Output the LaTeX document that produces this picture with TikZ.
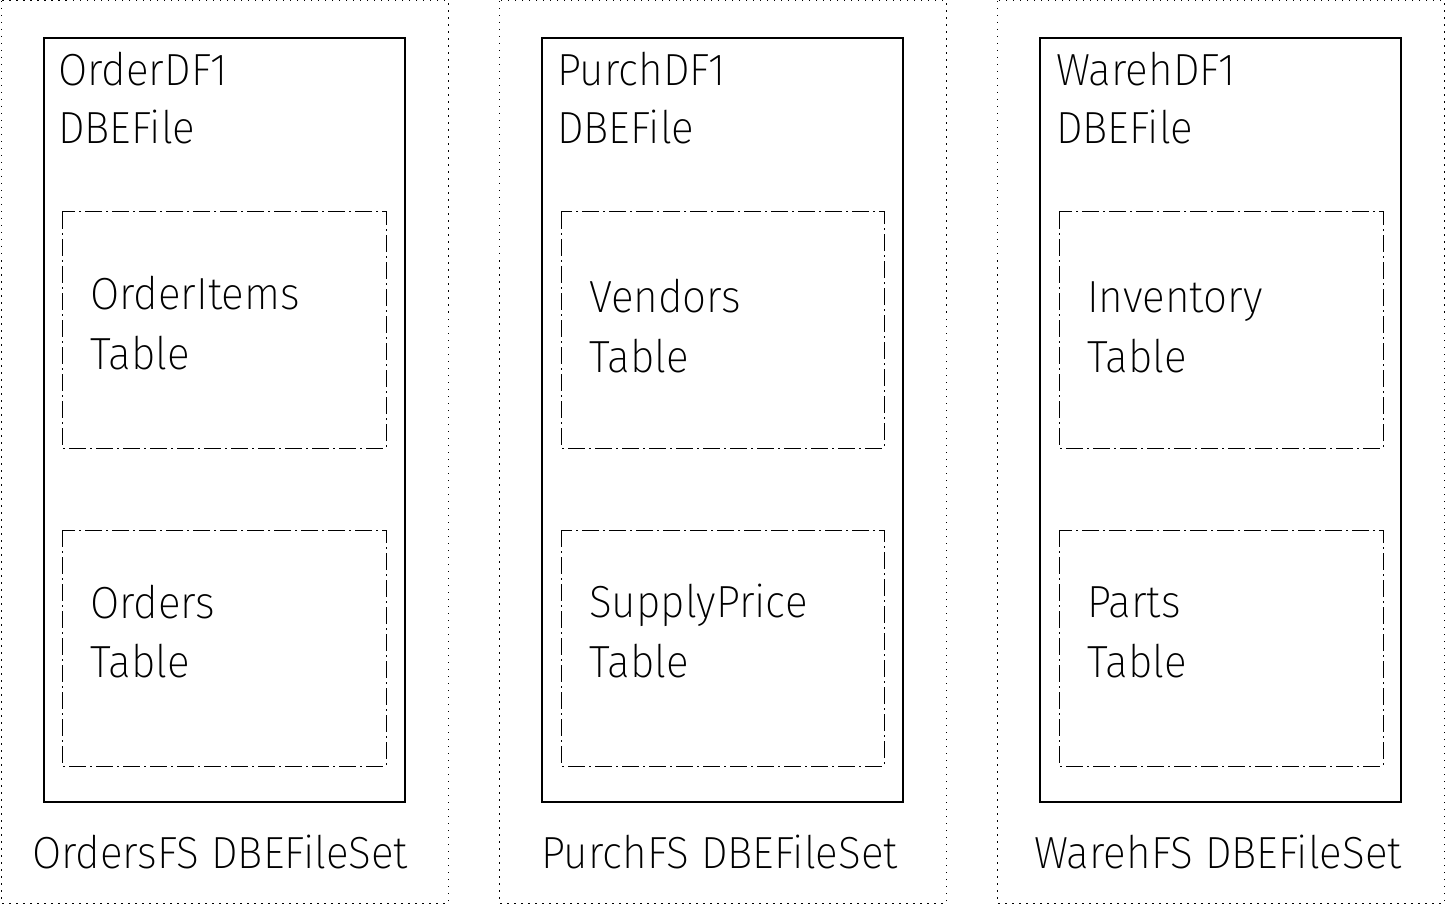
\documentclass[tikz,border=0pt]{standalone}
\usepackage{fontspec}
\newfontfamily\thinf{Fira Sans}[UprightFont={* ExtraLight}]
\tikzset{
  outerbox/.style={draw=black, line width=1pt, dash pattern=on 1.5pt off 5.5pt},
  filebox/.style={draw=black, line width=1.2pt},
  tablebox/.style={draw=black, line width=1pt, dash pattern=on 17pt off 4pt on 2pt off 4pt},
  lbl/.style={anchor=base west, inner sep=0pt, font=\thinf\fontsize{45}{50}\selectfont},
}
\newcommand{\sq}[1]{\scalebox{0.94}[1]{#1}}
\begin{document}
\begin{tikzpicture}[x=1pt,y=-1pt]
\useasboundingbox (0,0) rectangle (1446,904);
% column 1
\draw[outerbox] (1,1) rectangle (448,903);
\draw[filebox] (44,38) rectangle (405,802);
\draw[tablebox] (62,212) rectangle (386,448);
\draw[tablebox] (62,530) rectangle (386,766);
\node[lbl] (df1) at (58,86) {\sq{OrderDF1}};
\node[lbl] (f1) at (58,144) {\sq{DBEFile}};
\node[lbl] (t1a) at (90,309) {\sq{OrderItems}};
\node[lbl] (t1b) at (90,369) {\sq{Table}};
\node[lbl] (t1c) at (90,618) {\sq{Orders}};
\node[lbl] (t1d) at (90,677) {\sq{Table}};
\node[lbl] (fs1) at (32,868) {\sq{OrdersFS DBEFileSet}};
% column 2
\draw[outerbox] (499,1) rectangle (946,903);
\draw[filebox] (542,38) rectangle (903,802);
\draw[tablebox] (561,212) rectangle (884,448);
\draw[tablebox] (561,530) rectangle (884,766);
\node[lbl] (df2) at (557,86) {\sq{PurchDF1}};
\node[lbl] (f2) at (557,144) {\sq{DBEFile}};
\node[lbl] (t2a) at (589,312) {\sq{Vendors}};
\node[lbl] (t2b) at (589,372) {\sq{Table}};
\node[lbl] (t2c) at (589,617) {\sq{SupplyPrice}};
\node[lbl] (t2d) at (589,677) {\sq{Table}};
\node[lbl] (fs2) at (541,868) {\sq{PurchFS DBEFileSet}};
% column 3
\draw[outerbox] (997,1) rectangle (1444,903);
\draw[filebox] (1040,38) rectangle (1401,802);
\draw[tablebox] (1059,212) rectangle (1383,448);
\draw[tablebox] (1059,530) rectangle (1383,766);
\node[lbl] (df3) at (1056,86) {\sq{WarehDF1}};
\node[lbl] (f3) at (1056,144) {\sq{DBEFile}};
\node[lbl] (t3a) at (1087,312) {\sq{Inventory}};
\node[lbl] (t3b) at (1087,372) {\sq{Table}};
\node[lbl] (t3c) at (1087,617) {\sq{Parts}};
\node[lbl] (t3d) at (1087,677) {\sq{Table}};
\node[lbl] (fs3) at (1034,868) {\sq{WarehFS DBEFileSet}};
\end{tikzpicture}
\end{document}
